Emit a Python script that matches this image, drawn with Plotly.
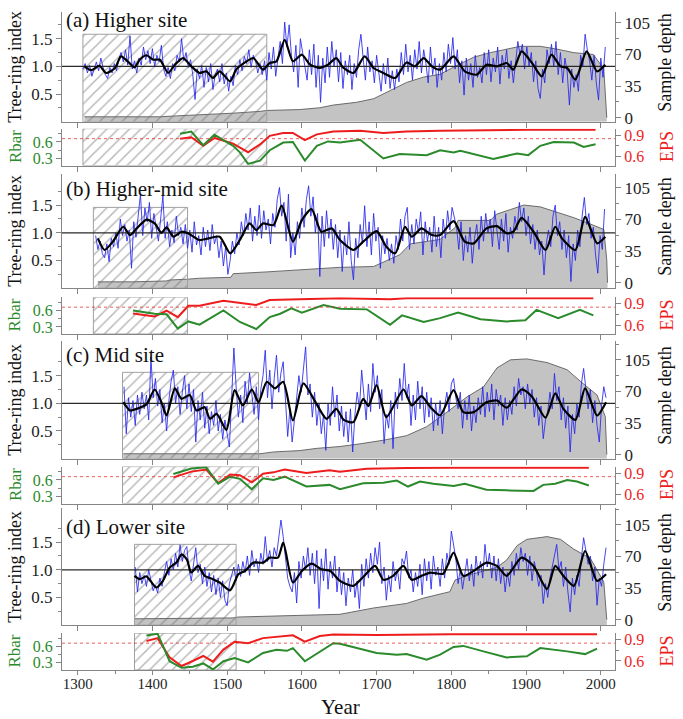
import plotly.graph_objects as go

XMIN, XMAX = 1279, 2019
STEP = 3

# ---------------- (a) Higher site ----------------
ring_a_start = 1307
ring_a = [0.95, 1.05, 0.88, 1.02, 0.82, 0.97, 1.08, 0.92, 1.15, 0.98,
          0.85, 0.78, 0.98, 0.88, 1.05, 0.92, 1.12, 1.25, 1.08, 1.3,
          1.02, 1.55, 0.95, 1.1, 0.88, 1.15, 1.02, 1.35, 1.12, 1.28,
          1.05, 1.32, 1.0, 1.2, 1.08, 1.38, 0.95, 0.82, 0.98, 0.78,
          1.05, 0.92, 1.2, 1.08, 1.5, 1.1, 1.25, 0.98, 1.12, 0.85,
          0.4, 0.95, 0.78, 1.02, 0.62, 0.98, 0.72, 1.05, 0.58, 0.85,
          0.95, 0.72, 1.05, 0.68, 0.88, 0.55, 0.82, 0.65, 1.02, 0.85,
          1.12, 0.92, 1.18, 1.05, 1.3, 0.98, 1.2, 1.1, 0.88, 1.05,
          0.85, 1.1, 0.75, 1.25, 0.95, 1.35, 0.82, 1.15, 1.45, 1.05,
          1.8, 1.35, 1.75, 1.2, 0.9, 1.38, 0.62, 1.5, 1.25, 1.05,
          0.75, 1.3, 0.85, 1.4, 0.62, 1.2, 0.35, 1.15, 0.7, 1.35,
          0.8, 1.45, 1.0, 1.3, 0.72, 1.25, 0.6, 1.1, 0.85, 1.2,
          0.58, 1.05, 0.8, 1.3, 1.58, 1.15, 0.75, 1.35, 0.9, 1.1,
          0.7, 1.2, 0.82, 0.55, 1.05, 0.68, 1.15, 0.6, 0.92, 0.58,
          0.95, 0.72, 1.25, 0.85, 1.4, 0.9, 1.2, 0.75, 1.3, 0.95,
          1.45, 0.88, 1.3, 1.05, 0.7, 1.35, 0.85, 1.15, 0.62, 1.05,
          0.75, 1.25, 0.9, 1.4, 1.05, 1.52, 0.95, 1.3, 0.7, 1.1,
          0.48, 1.15, 0.75, 1.05, 0.62, 1.2, 0.8, 0.98, 0.7, 1.25,
          0.85, 1.3, 0.72, 1.15, 0.9, 1.35, 0.68, 1.2, 0.95, 1.3,
          0.78, 1.1, 0.7, 1.05, 1.45, 1.2, 1.4, 0.95, 1.35, 1.0,
          1.25, 0.72, 1.1, 0.6, 0.42, 0.95, 0.7, 1.3, 1.05, 1.4,
          1.0, 1.45, 0.85, 1.25, 0.7, 1.15, 0.9, 0.3, 0.95, 0.62,
          0.85, 0.55, 1.2, 1.0, 1.58, 1.3, 1.1, 0.75, 1.2, 0.7,
          0.39, 1.15, 0.8, 1.35]
smooth_a_years = [1309, 1318, 1329, 1338, 1350, 1358, 1370, 1376, 1383, 1392, 1401, 1410, 1421, 1430,
                  1441, 1452, 1463, 1472, 1481, 1490, 1504, 1512, 1526, 1535, 1548, 1557, 1566, 1577,
                  1588, 1600, 1611, 1624, 1635, 1646, 1655, 1669, 1684, 1696, 1709, 1725, 1740, 1751,
                  1763, 1774, 1785, 1803, 1818, 1834, 1847, 1861, 1874, 1883, 1894, 1908, 1921, 1934,
                  1946, 1955, 1966, 1981, 1995, 2006]
smooth_a = [1.00, 0.93, 1.01, 0.88, 0.97, 1.18, 1.05, 0.98, 1.12, 1.20, 1.12, 1.12, 0.88, 1.03,
            1.15, 1.00, 0.88, 0.91, 0.79, 0.91, 0.73, 0.94, 1.09, 1.15, 0.94, 1.06, 1.09, 1.48,
            1.09, 1.21, 1.03, 0.97, 1.03, 1.15, 0.98, 0.88, 1.18, 0.97, 0.88, 0.79, 1.07, 1.00,
            1.15, 1.00, 0.94, 1.18, 0.91, 0.85, 1.03, 1.00, 1.06, 0.94, 1.27, 1.06, 0.82, 1.21,
            1.00, 0.97, 0.76, 1.27, 0.91, 1.03]
depth_a_years = [1309, 1410, 1432, 1463, 1508, 1544, 1553, 1597, 1624, 1642, 1673, 1696, 1718, 1740,
                 1763, 1785, 1803, 1830, 1852, 1874, 1892, 1919, 1941, 1964, 1990, 2004, 2008]
depth_a = [1, 1, 2, 3, 5, 7, 8, 9, 11, 14, 17, 21, 30, 39, 45, 48, 56, 67, 72, 76, 79, 79, 76, 72,
           70, 54, 0]
rbar_a_years = [1437, 1452, 1468, 1483, 1508, 1517, 1528, 1544, 1557, 1575, 1588, 1604, 1620, 1635,
                1651, 1678, 1709, 1731, 1767, 1785, 1803, 1812, 1856, 1888, 1903, 1919, 1937, 1964,
                1977, 1993]
rbar_a = [0.75, 0.79, 0.54, 0.73, 0.53, 0.41, 0.20, 0.26, 0.45, 0.59, 0.60, 0.26, 0.53, 0.61,
          0.59, 0.64, 0.30, 0.38, 0.36, 0.45, 0.41, 0.44, 0.29, 0.39, 0.36, 0.53, 0.60, 0.59,
          0.51, 0.56]
eps_a_years = [1437, 1452, 1468, 1483, 1508, 1528, 1544, 1557, 1575, 1588, 1604, 1620, 1642, 1678,
               1709, 1740, 1785, 1830, 1900, 1993]
eps_a = [0.85, 0.87, 0.75, 0.86, 0.78, 0.66, 0.77, 0.89, 0.93, 0.93, 0.83, 0.91, 0.95, 0.96,
         0.93, 0.95, 0.96, 0.97, 0.975, 0.975]
hatch_a = [1307, 1553, 1.58]

# ---------------- (b) Higher-mid site ----------------
ring_b_start = 1324
ring_b = [0.95, 0.7, 0.85, 0.62, 0.55, 0.8, 0.48, 0.9, 0.75, 1.0,
          0.72, 1.25, 0.95, 1.15, 0.85, 1.05, 0.36, 1.2, 0.92, 1.3,
          1.7, 0.95, 1.45, 1.2, 1.55, 0.9, 1.35, 1.1, 0.85, 1.25,
          1.67, 0.9, 1.2, 0.75, 1.05, 0.82, 1.3, 0.95, 1.1, 0.8,
          1.15, 0.72, 1.05, 0.65, 1.2, 0.78, 0.95, 0.6, 1.1, 0.75,
          1.05, 0.68, 1.15, 0.8, 0.95, 0.55, 0.85, 0.4, 0.75, 0.25,
          0.5, 0.85, 0.62, 1.0, 0.78, 1.2, 0.95, 1.35, 1.05, 1.45,
          0.85, 1.3, 0.95, 1.5, 0.9, 1.4, 1.05, 1.25, 0.8, 1.35,
          1.1, 1.6, 1.82, 1.3, 1.55, 0.85, 1.7, 0.55, 1.0, 0.6,
          1.2, 0.9, 1.45, 1.1, 1.6, 1.85, 1.3, 1.65, 1.0, 1.35,
          0.21, 1.3, 0.75, 1.4, 0.9, 1.25, 0.7, 1.15, 0.55, 1.05,
          0.3, 0.95, 0.6, 1.2, 0.5, 0.15, 0.9, 0.55, 1.15, 0.8,
          1.49, 0.75, 1.2, 0.6, 1.35, 0.85, 1.1, 0.36, 0.95, 0.62,
          0.9, 0.5, 0.8, 0.45, 0.95, 0.7, 1.25, 0.85, 1.3, 1.46,
          0.7, 1.15, 0.8, 1.25, 1.0, 1.38, 0.6, 1.2, 0.85, 1.1,
          0.65, 1.3, 0.75, 1.1, 0.55, 1.25, 0.9, 1.4, 1.05, 1.46,
          1.3, 1.1, 0.7, 1.2, 0.5, 0.95, 0.65, 1.1, 0.45, 0.9,
          1.15, 0.7, 1.3, 0.85, 1.35, 1.0, 1.25, 0.75, 1.4, 1.05,
          0.7, 1.25, 0.85, 1.35, 0.65, 1.1, 0.9, 1.3, 1.05, 1.55,
          1.2, 1.45, 0.95, 1.3, 0.8, 1.15, 0.7, 1.05, 0.6, 0.85,
          0.24, 0.8, 1.05, 0.75, 1.3, 1.5, 0.95, 1.2, 0.7, 1.05,
          0.55, 0.95, 0.12, 0.8, 0.5, 1.05, 0.75, 1.3, 1.64, 1.15,
          1.35, 0.9, 1.1, 0.6, 0.27, 0.95, 0.7, 1.43]
smooth_b_years = [1327, 1336, 1347, 1361, 1370, 1379, 1392, 1403, 1412, 1419, 1428, 1439, 1448, 1463,
                  1475, 1490, 1504, 1517, 1530, 1539, 1548, 1562, 1573, 1588, 1600, 1613, 1626, 1640,
                  1651, 1669, 1682, 1700, 1713, 1725, 1738, 1747, 1760, 1774, 1785, 1803, 1818, 1830,
                  1847, 1861, 1874, 1883, 1894, 1910, 1926, 1939, 1948, 1966, 1979, 1995, 2006]
smooth_b = [0.90, 0.69, 0.84, 1.11, 0.96, 1.08, 1.24, 1.17, 1.00, 1.10, 0.93, 1.02, 0.99, 0.87,
            0.90, 0.93, 0.63, 0.87, 1.17, 1.05, 1.17, 1.14, 1.49, 0.84, 1.23, 1.43, 1.02, 1.08,
            0.87, 0.69, 0.84, 1.03, 0.75, 0.63, 1.11, 0.93, 1.08, 0.96, 0.96, 1.21, 0.84, 0.81,
            1.08, 1.12, 0.99, 1.02, 1.27, 1.02, 0.69, 1.11, 0.90, 0.69, 1.29, 0.81, 0.93]
depth_b_years = [1327, 1374, 1419, 1423, 1448, 1463, 1505, 1508, 1553, 1597, 1624, 1650, 1696, 1714,
                 1731, 1745, 1785, 1805, 1809, 1852, 1861, 1879, 1897, 1919, 1937, 1964, 1986, 2004,
                 2008, 2009]
depth_b = [1, 1, 2, 3, 4, 5, 6, 10, 12, 14, 16, 17, 18, 25, 31, 43, 48, 61, 69, 69, 76, 81, 86, 84,
           79, 72, 65, 59, 25, 0]
rbar_b_years = [1374, 1403, 1419, 1434, 1448, 1463, 1495, 1517, 1539, 1557, 1571, 1586, 1600, 1629,
                1651, 1687, 1718, 1734, 1763, 1785, 1809, 1839, 1874, 1899, 1914, 1943, 1972, 1990]
rbar_b = [0.60, 0.54, 0.53, 0.27, 0.40, 0.34, 0.60, 0.39, 0.26, 0.48, 0.54, 0.64, 0.56, 0.70,
          0.63, 0.62, 0.34, 0.51, 0.39, 0.46, 0.56, 0.44, 0.40, 0.42, 0.61, 0.46, 0.61, 0.51]
eps_b_years = [1374, 1403, 1419, 1434, 1448, 1463, 1495, 1539, 1557, 1586, 1629, 1651, 1718, 1740, 1990]
eps_b = [0.76, 0.72, 0.80, 0.71, 0.87, 0.87, 0.94, 0.88, 0.95, 0.96, 0.97, 0.975, 0.96, 0.975, 0.975]
hatch_b = [1321, 1447, 1.46]

# ---------------- (c) Mid site ----------------
ring_c_start = 1362
ring_c = [1.3, 0.45, 1.1, 0.75, 1.05, 0.6, 1.15, 0.8, 1.2, 0.9,
          1.15, 0.7, 1.84, 1.1, 1.45, 0.95, 1.25, 0.65, 1.0, 0.5,
          1.05, 1.4, 1.6, 1.0, 1.3, 0.8, 1.2, 1.5, 0.9, 1.35,
          0.85, 1.25, 0.3, 1.05, 0.7, 1.2, 0.55, 0.95, 0.45, 0.85,
          0.6, 1.05, 0.5, 0.8, 0.35, 0.7, 0.45, 0.21, 1.1, 2.0,
          1.3, 0.75, 1.15, 0.65, 1.4, 1.0, 1.55, 1.2, 0.8, 1.3,
          0.7, 1.25, 1.5, 1.96, 1.1, 1.6, 0.9, 1.45, 1.87, 1.2,
          1.55, 1.75, 1.1, 0.4, 0.9, 0.3, 0.7, 1.1, 1.5, 1.2,
          1.6, 2.02, 1.15, 1.35, 0.75, 1.2, 0.6, 1.0, 0.45, 0.8,
          0.15, 1.0, 0.6, 1.3, 0.75, 1.15, 0.5, 0.95, 0.4, 0.85,
          0.3, 0.9, 0.12, 0.8, 1.2, 0.9, 1.6, 1.1, 0.7, 1.35,
          0.85, 1.72, 1.2, 1.5, 0.9, 1.25, 0.27, 0.8, 0.55, 1.05,
          0.18, 1.2, 0.9, 1.45, 1.05, 1.72, 1.1, 1.35, 0.6, 1.15,
          0.7, 1.4, 0.9, 1.3, 0.65, 1.2, 0.75, 1.1, 0.5, 1.0,
          0.6, 1.05, 0.45, 0.95, 1.2, 0.85, 1.35, 1.45, 1.1, 0.9,
          1.2, 0.55, 1.05, 0.7, 1.15, 0.5, 0.95, 0.65, 1.1, 0.8,
          1.3, 0.75, 1.2, 0.85, 1.35, 0.7, 1.25, 0.95, 1.15, 0.6,
          1.1, 0.7, 1.05, 0.8, 1.3, 0.95, 1.45, 1.15, 1.3, 0.9,
          1.35, 1.0, 1.25, 0.75, 1.1, 0.6, 0.95, 0.36, 0.7, 0.85,
          1.2, 0.9, 1.54, 1.05, 1.3, 0.7, 1.1, 0.55, 0.95, 0.12,
          0.8, 0.45, 1.0, 0.75, 1.35, 1.63, 1.2, 0.9, 1.25, 0.65,
          1.05, 0.6, 0.3, 0.95, 1.3, 1.1]
smooth_c_years = [1361, 1370, 1379, 1392, 1403, 1412, 1419, 1430, 1439, 1450, 1459, 1470, 1477, 1486,
                  1499, 1510, 1521, 1533, 1542, 1553, 1564, 1575, 1588, 1602, 1617, 1633, 1646, 1656,
                  1669, 1682, 1689, 1700, 1713, 1736, 1747, 1760, 1772, 1785, 1803, 1816, 1830, 1847,
                  1861, 1874, 1894, 1908, 1926, 1939, 1950, 1966, 1979, 1995, 2007]
smooth_c = [1.02, 0.87, 0.90, 0.98, 1.25, 1.02, 0.78, 1.27, 1.08, 1.15, 0.87, 0.93, 0.72, 0.81,
            0.52, 1.24, 0.96, 1.25, 1.02, 1.39, 1.27, 1.39, 0.69, 1.36, 1.05, 0.72, 0.90, 0.70,
            0.66, 1.08, 0.95, 1.33, 0.75, 1.25, 0.96, 1.13, 0.93, 0.78, 1.24, 0.84, 0.84, 1.02,
            1.05, 0.92, 1.25, 1.12, 0.74, 1.18, 0.90, 0.70, 1.27, 0.78, 1.02]
depth_c_years = [1361, 1508, 1544, 1562, 1597, 1620, 1651, 1678, 1709, 1740, 1767, 1794, 1821, 1843,
                 1861, 1879, 1901, 1928, 1955, 1973, 1995, 2006, 2008]
depth_c = [1, 1, 1, 3, 4.5, 7, 9, 12, 16, 21, 31, 47, 64, 75, 96, 105, 106, 102, 94, 81, 66, 42, 0]
rbar_c_years = [1428, 1452, 1472, 1488, 1504, 1517, 1533, 1548, 1562, 1577, 1606, 1637, 1651, 1682,
                1709, 1727, 1742, 1758, 1776, 1803, 1818, 1847, 1874, 1910, 1923, 1939, 1955, 1968,
                1984]
rbar_c = [0.71, 0.81, 0.83, 0.53, 0.66, 0.62, 0.43, 0.63, 0.60, 0.66, 0.48, 0.51, 0.43, 0.54,
          0.55, 0.59, 0.48, 0.57, 0.53, 0.49, 0.53, 0.42, 0.41, 0.40, 0.51, 0.53, 0.60, 0.57, 0.50]
eps_c_years = [1428, 1452, 1472, 1488, 1504, 1517, 1533, 1548, 1562, 1577, 1606, 1637, 1651, 1687,
               1740, 1800, 1984]
eps_c = [0.84, 0.92, 0.95, 0.76, 0.88, 0.87, 0.77, 0.89, 0.91, 0.95, 0.90, 0.94, 0.92, 0.96,
         0.97, 0.975, 0.975]
hatch_c = [1360, 1542, 1.56]

# ---------------- (d) Lower site ----------------
ring_d_start = 1377
ring_d = [1.05, 0.6, 0.95, 0.75, 0.9, 0.7, 1.0, 0.8, 0.62, 0.72,
          0.58, 0.85, 0.7, 0.95, 1.15, 0.9, 1.2, 1.0, 1.3, 1.05,
          1.45, 1.15, 1.35, 1.42, 1.0, 0.8, 1.15, 1.4, 0.95, 1.1,
          0.75, 1.05, 0.7, 0.95, 0.6, 0.9, 0.55, 0.85, 0.5, 0.8,
          0.45, 0.35, 0.75, 0.9, 1.05, 0.8, 1.1, 0.88, 1.15, 0.95,
          1.25, 0.9, 1.35, 1.05, 1.2, 0.95, 1.3, 1.1, 1.6, 1.15,
          1.35, 1.05, 1.4, 1.25, 1.55, 1.9, 1.6, 1.2, 0.85, 0.7,
          0.6, 0.95, 0.4, 1.15, 0.85, 1.25, 1.0, 1.4, 0.9, 1.3,
          0.75, 1.35, 0.3, 1.2, 0.8, 1.38, 0.65, 1.15, 0.85, 1.25,
          0.6, 1.05, 0.55, 0.95, 0.35, 0.85, 0.6, 1.0, 0.5, 0.8,
          0.3, 1.1, 0.7, 1.2, 0.85, 1.3, 0.95, 1.4, 1.1, 1.5,
          0.75, 1.05, 0.45, 0.9, 0.6, 1.15, 0.8, 1.0, 0.65, 1.2,
          1.1, 1.34, 0.85, 1.0, 0.6, 0.95, 0.7, 1.1, 0.55, 1.2,
          0.8, 1.15, 0.65, 1.25, 0.9, 1.05, 0.7, 1.2, 0.85, 1.3,
          1.1, 1.7, 1.45, 1.2, 0.75, 1.0, 0.65, 0.9, 1.2, 0.8,
          1.1, 0.7, 1.25, 0.9, 1.15, 0.85, 1.46, 1.05, 1.3, 0.85,
          1.25, 0.8, 1.2, 0.75, 1.05, 0.6, 0.95, 0.7, 1.15, 0.9,
          1.3, 1.0, 1.4, 1.15, 1.3, 0.9, 1.25, 0.8, 1.15, 0.95,
          0.7, 0.9, 0.39, 0.75, 0.5, 0.85, 1.05, 1.2, 1.46, 1.0,
          1.15, 0.7, 1.05, 0.6, 0.24, 0.85, 0.55, 0.9, 0.7, 1.2,
          1.58, 1.35, 1.1, 1.25, 0.8, 1.05, 0.36, 0.85, 0.7, 1.1,
          1.4]
smooth_d_years = [1376, 1383, 1392, 1405, 1414, 1423, 1432, 1439, 1446, 1452, 1461, 1470, 1481, 1490,
                  1504, 1515, 1524, 1535, 1548, 1557, 1568, 1575, 1588, 1600, 1613, 1626, 1638, 1651,
                  1669, 1682, 1698, 1709, 1722, 1736, 1747, 1760, 1772, 1789, 1803, 1816, 1830, 1847,
                  1861, 1874, 1894, 1910, 1928, 1939, 1950, 1964, 1979, 1995, 2007]
smooth_d = [0.89, 0.83, 0.88, 0.68, 0.80, 1.04, 1.13, 1.28, 1.19, 0.95, 1.07, 0.89, 0.83, 0.77,
            0.63, 0.92, 0.98, 1.13, 1.13, 1.22, 1.22, 1.49, 0.77, 0.98, 1.11, 1.01, 0.98, 0.80,
            0.71, 0.87, 1.07, 0.82, 0.89, 1.07, 0.82, 0.89, 0.95, 0.93, 1.31, 0.89, 0.98, 1.13,
            1.07, 0.89, 1.22, 1.07, 0.65, 1.07, 0.89, 0.71, 1.34, 0.80, 0.92]
depth_d_years = [1376, 1508, 1515, 1651, 1696, 1740, 1763, 1798, 1805, 1830, 1861, 1874, 1888, 1901,
                 1928, 1946, 1964, 1986, 2004, 2008]
depth_d = [1, 2, 3, 6, 13, 18, 24, 31, 44, 51, 58, 66, 82, 89, 92, 89, 78, 68, 42, 0]
rbar_d_years = [1392, 1407, 1423, 1439, 1454, 1468, 1481, 1495, 1510, 1528, 1548, 1566, 1580, 1588,
                1604, 1624, 1642, 1651, 1678, 1700, 1727, 1740, 1767, 1785, 1803, 1816, 1843, 1874,
                1901, 1919, 1955, 1979, 1995]
rbar_d = [0.80, 0.83, 0.33, 0.21, 0.23, 0.29, 0.18, 0.33, 0.39, 0.31, 0.48, 0.54, 0.52, 0.57,
          0.33, 0.51, 0.66, 0.65, 0.55, 0.48, 0.45, 0.46, 0.36, 0.45, 0.59, 0.61, 0.51, 0.40,
          0.42, 0.57, 0.51, 0.46, 0.56]
eps_d_years = [1392, 1407, 1423, 1439, 1454, 1468, 1481, 1495, 1510, 1528, 1548, 1566, 1588, 1604,
               1624, 1642, 1700, 1800, 1995]
eps_d = [0.88, 0.92, 0.65, 0.53, 0.60, 0.67, 0.59, 0.76, 0.87, 0.85, 0.92, 0.94, 0.96, 0.87,
         0.95, 0.97, 0.965, 0.975, 0.975]
hatch_d = [1376, 1512, 1.46]

titles = ["(a) Higher site", "(b) Higher-mid site", "(c) Mid site", "(d) Lower site"]
EPS_THRESHOLD = 0.85

panels = [
    dict(ring_start=ring_a_start, ring=ring_a, sy=smooth_a_years, s=smooth_a, dy=depth_a_years, d=depth_a,
         ry=rbar_a_years, r=rbar_a, ey=eps_a_years, e=eps_a, hatch=hatch_a),
    dict(ring_start=ring_b_start, ring=ring_b, sy=smooth_b_years, s=smooth_b, dy=depth_b_years, d=depth_b,
         ry=rbar_b_years, r=rbar_b, ey=eps_b_years, e=eps_b, hatch=hatch_b),
    dict(ring_start=ring_c_start, ring=ring_c, sy=smooth_c_years, s=smooth_c, dy=depth_c_years, d=depth_c,
         ry=rbar_c_years, r=rbar_c, ey=eps_c_years, e=eps_c, hatch=hatch_c),
    dict(ring_start=ring_d_start, ring=ring_d, sy=smooth_d_years, s=smooth_d, dy=depth_d_years, d=depth_d,
         ry=rbar_d_years, r=rbar_d, ey=eps_d_years, e=eps_d, hatch=hatch_d),
]

# ---------------- geometry / style ----------------
W, H = 683, 719
ML, MR, MT, MB = 62, 68, 10, 49
PH = H - MT - MB
PW = W - ML - MR
MAIN_PX = [(10, 120), (172, 287), (340, 458), (508, 625)]
RBAR_PX = [(127, 164), (296, 333), (466, 503), (633, 670)]
TITLE_PX = [18, 188, 354, 527]
DEPTH_OFF = [4.4, 6, 4.4, 6]

FONT = "Liberation Serif"
BLUE = "rgb(38,38,235)"
GREEN = "#2b8a2b"
RED = "#ee1d1d"
AX = "#858585"
HATCH = dict(shape="/", size=8, solidity=0.18, fgcolor="#6e6e6e")


def py(px):
    return (H - MB - px) / PH


def pxx(px):
    return (px - ML) / PW


def an(prefix, n):
    return prefix if n == 1 else f"{prefix}{n}"


def lk(prefix, n):
    return f"{prefix}axis" if n == 1 else f"{prefix}axis{n}"


fig = go.Figure()
layout = {}
annotations = []
shapes = []

for i, p in enumerate(panels):
    nxm, nxr = 2 * i + 1, 2 * i + 2
    nyd, nyr, nye, nyb = 4 * i + 1, 4 * i + 2, 4 * i + 3, 4 * i + 4
    xm, xr = an("x", nxm), an("x", nxr)
    yd, yr, ye, yb = an("y", nyd), an("y", nyr), an("y", nye), an("y", nyb)
    mt, mb = MAIN_PX[i]
    rt, rb = RBAR_PX[i]
    ring_top = (mb - mt) / 55.5
    dlo = -DEPTH_OFF[i]
    dhi = dlo + (mb - mt) / 0.906
    rlo, rhi = 0.17, 0.17 + (rb - rt) * 0.0182
    elo, ehi = 0.474, 0.474 + (rb - rt) * 0.01395
    last = i == 3

    # ---- main panel traces ----
    fig.add_trace(go.Scatter(x=[p["dy"][0], p["dy"][-1]], y=[dlo, dlo], xaxis=xm, yaxis=yd,
                             mode="lines", line=dict(width=0, color="rgba(0,0,0,0)"), hoverinfo="skip"))
    fig.add_trace(go.Scatter(x=p["dy"], y=p["d"], xaxis=xm, yaxis=yd, mode="lines",
                             line=dict(color="#5e5e5e", width=0.9), fill="tonexty", fillcolor="#c3c3c3"))
    h0, h1, htop = p["hatch"]
    fig.add_trace(go.Scatter(x=[h0, h0, h1, h1, h0], y=[0, htop, htop, 0, 0], xaxis=xm, yaxis=yr,
                             mode="lines", line=dict(color="#a0a0a0", width=1), fill="toself",
                             fillcolor="rgba(0,0,0,0)", fillpattern=HATCH))
    ring_years = list(range(p["ring_start"], p["ring_start"] + STEP * len(p["ring"]), STEP))
    fig.add_trace(go.Scatter(x=ring_years, y=p["ring"], xaxis=xm, yaxis=yr, mode="lines",
                             line=dict(color=BLUE, width=0.85)))
    fig.add_trace(go.Scatter(x=[XMIN, XMAX], y=[1, 1], xaxis=xm, yaxis=yr, mode="lines",
                             line=dict(color="#2a2a2a", width=1.3)))
    fig.add_trace(go.Scatter(x=p["sy"], y=p["s"], xaxis=xm, yaxis=yr, mode="lines",
                             line=dict(color="black", width=2.2, shape="spline", smoothing=0.65)))

    # ---- rbar/eps panel traces ----
    fig.add_trace(go.Scatter(x=[h0, h0, h1, h1, h0], y=[elo, ehi, ehi, elo, elo], xaxis=xr, yaxis=ye,
                             mode="lines", line=dict(color="#a0a0a0", width=1), fill="toself",
                             fillcolor="rgba(0,0,0,0)", fillpattern=HATCH))
    fig.add_trace(go.Scatter(x=p["ey"], y=p["e"], xaxis=xr, yaxis=ye, mode="lines",
                             line=dict(color=RED, width=2)))
    fig.add_trace(go.Scatter(x=p["ry"], y=p["r"], xaxis=xr, yaxis=yb, mode="lines",
                             line=dict(color=GREEN, width=2)))
    shapes.append(dict(type="line", xref=f"{xr} domain", yref=ye, x0=0, x1=1,
                       y0=EPS_THRESHOLD, y1=EPS_THRESHOLD,
                       line=dict(color="rgba(238,40,40,0.75)", width=1, dash="dot")))

    # ---- axes ----
    xcommon = dict(domain=[0, 1], range=[XMIN, XMAX], showline=True, linecolor=AX, linewidth=1,
                   ticks="outside", ticklen=5, tickcolor=AX, tick0=1300, dtick=100,
                   showgrid=False, zeroline=False)
    layout[lk("x", nxm)] = dict(xcommon, anchor=yd, showticklabels=False)
    xr_ax = dict(xcommon, anchor=ye, showticklabels=last,
                 tickfont=dict(family=FONT, size=15, color="#222"))
    if last:
        xr_ax["ticklen"] = 4
        xr_ax["ticklabelstandoff"] = -4
        xr_ax["minor"] = dict(ticks="outside", dtick=50, tick0=1300, ticklen=3, tickcolor=AX)
    layout[lk("x", nxr)] = xr_ax

    ycommon = dict(showline=True, linecolor=AX, linewidth=1, ticks="outside", ticklen=5,
                   tickcolor=AX, showgrid=False, zeroline=False)
    layout[lk("y", nyd)] = dict(ycommon, domain=[py(mb), py(mt)], anchor=xm, side="right",
                                range=[dlo, dhi], tick0=0, dtick=35,
                                minor=dict(ticks="outside", dtick=17.5, tick0=0, ticklen=3, tickcolor=AX),
                                tickfont=dict(family=FONT, size=17, color="#222"))
    layout[lk("y", nyr)] = dict(ycommon, overlaying=yd, anchor=xm, side="left",
                                range=[0, ring_top], tickvals=[0.5, 1.0, 1.5],
                                ticktext=["0.5", "1.0", "1.5"],
                                minor=dict(ticks="outside", tickmode="array",
                                           tickvals=[0.25, 0.75, 1.25, 1.75], ticklen=3, tickcolor=AX),
                                tickfont=dict(family=FONT, size=17, color="#222"))
    layout[lk("y", nye)] = dict(ycommon, domain=[py(rb), py(rt)], anchor=xr, side="right",
                                range=[elo, ehi], tickvals=[0.6, 0.9], ticktext=["0.6", "0.9"],
                                minor=dict(ticks="outside", tickmode="array", tickvals=[0.75],
                                           ticklen=3, tickcolor=AX),
                                tickfont=dict(family=FONT, size=16, color=RED))
    layout[lk("y", nyb)] = dict(ycommon, overlaying=ye, anchor=xr, side="left",
                                range=[rlo, rhi], tickvals=[0.3, 0.6], ticktext=["0.3", "0.6"],
                                minor=dict(ticks="outside", tickmode="array", tickvals=[0.45, 0.75],
                                           ticklen=3, tickcolor=AX),
                                tickfont=dict(family=FONT, size=16, color=GREEN))

    # ---- text ----
    annotations.append(dict(text=titles[i], xref="paper", yref="paper", x=pxx(64), y=py(TITLE_PX[i]),
                            xanchor="left", yanchor="middle", showarrow=False,
                            font=dict(family=FONT, size=21, color="#111")))
    annotations.append(dict(text="Tree-ring index", xref="paper", yref="paper", x=pxx(15),
                            y=py((mt + mb) / 2), xanchor="center", yanchor="middle", textangle=-90,
                            showarrow=False, font=dict(family=FONT, size=18, color="#111")))
    annotations.append(dict(text="Sample depth", xref="paper", yref="paper", x=pxx(665),
                            y=py((mt + mb) / 2 - 4), xanchor="center", yanchor="middle", textangle=-90,
                            showarrow=False, font=dict(family=FONT, size=18, color="#111")))
    annotations.append(dict(text="Rbar", xref="paper", yref="paper", x=pxx(15),
                            y=py((rt + rb) / 2), xanchor="center", yanchor="middle", textangle=-90,
                            showarrow=False, font=dict(family=FONT, size=17, color=GREEN)))
    annotations.append(dict(text="EPS", xref="paper", yref="paper", x=pxx(667),
                            y=py((rt + rb) / 2), xanchor="center", yanchor="middle", textangle=-90,
                            showarrow=False, font=dict(family=FONT, size=18, color=RED)))

annotations.append(dict(text="Year", xref="paper", yref="paper", x=pxx(340), y=py(707),
                        xanchor="center", yanchor="middle", showarrow=False,
                        font=dict(family=FONT, size=21, color="#111")))

fig.update_layout(**layout)
fig.update_layout(width=W, height=H, margin=dict(l=ML, r=MR, t=MT, b=MB, pad=0),
                  paper_bgcolor="white", plot_bgcolor="white", showlegend=False,
                  annotations=annotations, shapes=shapes,
                  font=dict(family=FONT, size=15, color="#222"))

fig.write_html("out.html", config={"displayModeBar": False},
               post_script="document.body.style.margin='0';document.body.style.padding='0';"
                           "document.documentElement.style.overflow='hidden';")
